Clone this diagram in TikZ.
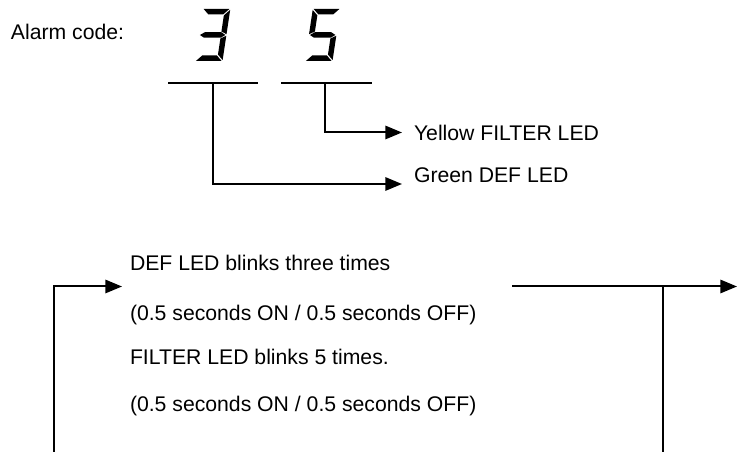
\documentclass[tikz,border=0pt]{standalone}
\usepackage{fontspec}
\setmainfont{Liberation Sans}
\usetikzlibrary{arrows.meta}

% seven-segment pieces, digit box 27.5 x 52
\newcommand{\segA}{(0.9,52)--(26.6,52)--(21.1,46.5)--(6.4,46.5)--cycle}
\newcommand{\segB}{(27.5,51.1)--(27.5,26.8)--(22,29.5)--(22,45.6)--cycle}
\newcommand{\segC}{(27.5,25.2)--(27.5,0.9)--(22,6.4)--(22,22.5)--cycle}
\newcommand{\segD}{(0.9,0)--(26.6,0)--(21.1,5.5)--(6.4,5.5)--cycle}
\newcommand{\segF}{(0,51.1)--(5.5,45.6)--(5.5,29.5)--(0,26.8)--cycle}
\newcommand{\segG}{(1,26)--(5.5,28.75)--(22,28.75)--(26.5,26)--(22,23.25)--(5.5,23.25)--cycle}

\begin{document}
\begin{tikzpicture}[x=0.75pt,y=0.75pt,line width=1.5pt,
  conn/.style={-{Triangle[length=12.5pt,width=10pt]}},
  txt/.style={anchor=base west,inner sep=0pt,font=\fontsize{15.9}{19}\selectfont}]
  \useasboundingbox (0,0) rectangle (737,452);

  % alarm code with the two digits
  \node[txt] (alarm) at (10,412.5) {Alarm code:};
  \begin{scope}[shift={(195,391)},xslant=0.15]
    \fill \segA \segB \segG \segC \segD;
  \end{scope}
  \begin{scope}[shift={(305,391)},xslant=0.15]
    \fill \segA \segF \segG \segC \segD;
  \end{scope}

  % underlines and taps
  \coordinate (bar3l) at (168,369);
  \coordinate (bar3r) at (258,369);
  \coordinate (bar5l) at (281,369);
  \coordinate (bar5r) at (372,369);
  \coordinate (tap3) at (213,369);
  \coordinate (tap5) at (325,369);
  \draw (bar3l) -- (bar3r);
  \draw (bar5l) -- (bar5r);

  \node[txt] (yellow) at (413,311) {Yellow FILTER LED};
  \node[txt] (green) at (413,269) {Green DEF LED};
  \coordinate (tipY) at (402,319.5);
  \coordinate (tipG) at (402,268);
  \draw[conn] (tap5) |- (tipY);
  \draw[conn] (tap3) |- (tipG);

  % blink pattern
  \node[txt] (blink1) at (129,181.3) {DEF LED blinks three times};
  \node[txt] (time1) at (129,131) {(0.5 seconds ON / 0.5 seconds OFF)};
  \node[txt] (blink2) at (129,87.7) {FILTER LED blinks 5 times.};
  \node[txt] (time2) at (129,40.3) {(0.5 seconds ON / 0.5 seconds OFF)};

  \coordinate (lfoot) at (54,0);
  \coordinate (tipL) at (122,165.5);
  \draw[conn] (lfoot) |- (tipL);

  \coordinate (rstart) at (512,165.5);
  \coordinate (tipR) at (737,165.5);
  \coordinate (rjoin) at (663,165.5);
  \coordinate (rfoot) at (663,0);
  \draw[conn] (rstart) -- (tipR);
  \draw (rjoin) -- (rfoot);
\end{tikzpicture}
\end{document}
